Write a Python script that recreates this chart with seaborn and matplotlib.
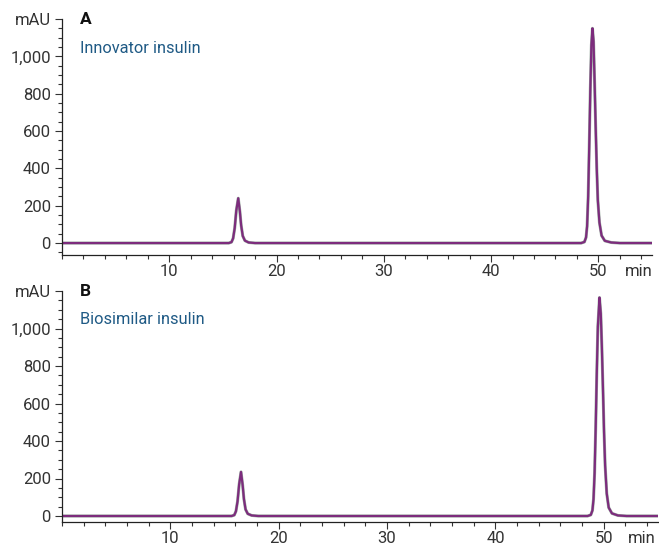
import matplotlib
matplotlib.use("Agg")
import matplotlib.pyplot as plt
import seaborn as sns
import pandas as pd
from matplotlib.ticker import MultipleLocator

# Chromatogram traces (time in min, absorbance in mAU)
tiempo_a = [0, 15.55, 15.8, 15.95, 16.1, 16.25, 16.43, 16.58, 16.7, 16.85, 17.05, 17.4, 18.0,
            48.4, 48.7, 48.85, 48.95, 49.05, 49.15, 49.25, 49.35, 49.45, 49.55, 49.65,
            49.75, 49.85, 49.95, 50.1, 50.3, 50.6, 51.2, 52.0, 55]
senal_a = [0, 0, 5, 25, 80, 175, 240, 170, 95, 38, 13, 3, 0,
           0, 6, 30, 90, 250, 520, 820, 1060, 1150, 1080, 860,
           620, 400, 230, 110, 40, 12, 3, 0, 0]

tiempo_b = [0, 15.65, 15.9, 16.05, 16.2, 16.35, 16.52, 16.67, 16.79, 16.94, 17.14, 17.5, 18.1,
            48.5, 48.8, 48.95, 49.05, 49.15, 49.25, 49.35, 49.45, 49.6, 49.72, 49.82,
            49.92, 50.02, 50.12, 50.27, 50.45, 50.75, 51.3, 52.1, 55]
senal_b = [0, 0, 5, 25, 78, 170, 235, 165, 90, 35, 12, 3, 0,
           0, 6, 30, 90, 230, 470, 760, 1010, 1165, 1080, 900,
           680, 450, 270, 120, 45, 14, 3, 0, 0]

marcas_x = [10, 20, 30, 40, 50]
etiquetas_y = ["0", "200", "400", "600", "800", "1,000", "mAU"]

paneles = [
    {"t": tiempo_a, "y": senal_a, "letra": "A", "nombre": "Innovator insulin",
     "pos": [62 / 659, 1 - 255 / 548, 590 / 659, 236 / 548], "ymin": -64, "xmin_lbl": 53.8},
    {"t": tiempo_b, "y": senal_b, "letra": "B", "nombre": "Biosimilar insulin",
     "pos": [62 / 659, 1 - 522 / 548, 596 / 659, 231 / 548], "ymin": -32, "xmin_lbl": 53.5},
]

sns.set_style("ticks")
plt.rcParams["font.family"] = ["Roboto", "DejaVu Sans"]

fig = plt.figure(figsize=(6.59, 5.48), dpi=100)

for p in paneles:
    ax = fig.add_axes(p["pos"])
    df = pd.DataFrame({"min": p["t"], "mAU": p["y"]})
    # overlaid replicate traces: greenish underneath, purple on top
    sns.lineplot(data=df, x="min", y="mAU", ax=ax, color="#5f7f6a", lw=2.2,
                 estimator=None, sort=False, alpha=0.6)
    sns.lineplot(data=df, x="min", y="mAU", ax=ax, color="#7d2c7d", lw=1.6,
                 estimator=None, sort=False)

    ax.set_xlim(0, 55)
    ax.set_ylim(p["ymin"], 1200)
    ax.set_xlabel("")
    ax.set_ylabel("")

    ax.set_xticks(marcas_x + [p["xmin_lbl"]])
    ax.set_xticklabels([str(v) for v in marcas_x] + ["min"])
    ax.xaxis.set_minor_locator(MultipleLocator(2))
    ax.set_yticks([0, 200, 400, 600, 800, 1000, 1200])
    ax.set_yticklabels(etiquetas_y)
    ax.yaxis.set_minor_locator(MultipleLocator(50))

    ax.tick_params(which="major", direction="out", length=5, width=0.8,
                   labelsize=12, labelcolor="#333333", color="#333333", pad=3)
    ax.tick_params(axis="x", which="major", pad=1.5)
    ax.tick_params(which="minor", direction="out", length=3, width=0.8, color="#333333")
    # the "min" label carries no tick mark of its own
    ax.xaxis.get_major_ticks()[-1].tick1line.set_visible(False)

    for s in ["left", "bottom"]:
        ax.spines[s].set_color("#222222")
        ax.spines[s].set_linewidth(0.9)
    sns.despine(ax=ax)

    ax.text(0.03, 1.0, p["letra"], transform=ax.transAxes, fontsize=12.5,
            fontweight="bold", color="#111111", va="center", ha="left")
    ax.text(0.03, 0.875, p["nombre"], transform=ax.transAxes, fontsize=11.8,
            color="#1f5a85", va="center", ha="left")

fig.savefig("out.png", dpi=100)
